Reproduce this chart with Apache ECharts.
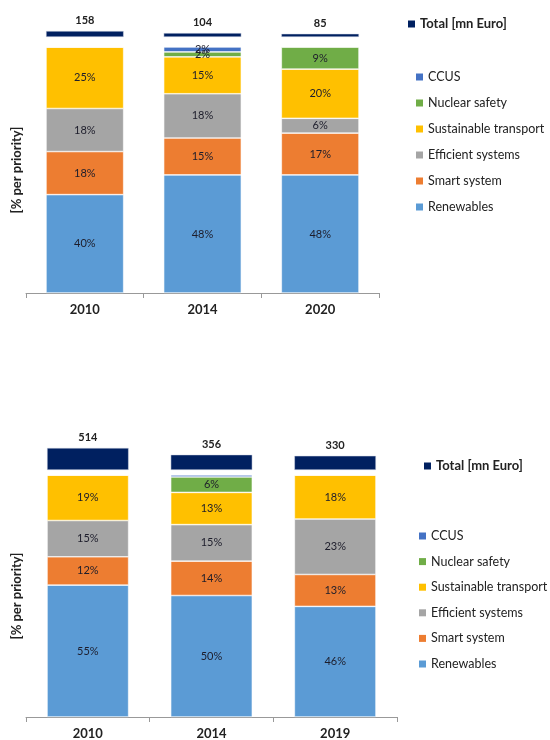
<!DOCTYPE html>
<html>
<head>
<meta charset="utf-8">
<script src="https://cdn.jsdelivr.net/npm/echarts@6/dist/echarts.min.js"></script>
<style>
  html, body { margin: 0; padding: 0; background: #fff; }
  #chart { width: 550px; height: 740px; }
</style>
</head>
<body>
<div id="chart"></div>
<script>
// top chart
const topYears = ['2010', '2014', '2020'];
const topTotal = [158, 104, 85];
const topRenewables = [40, 48, 48];
const topSmart = [17.5, 15, 17];
const topEfficient = [17.5, 18, 6];
const topTransport = [25, 15, 20];
const topNuclear = [0, 2, 9];
const topCcus = [0, 2, 0];

// bottom chart
const botYears = ['2010', '2014', '2019'];
const botTotal = [514, 356, 330];
const botRenewables = [54.5, 50.2, 45.7];
const botSmart = [11.7, 14.2, 13.2];
const botEfficient = [15, 15.1, 22.9];
const botTransport = [18.8, 13.3, 18.2];
const botNuclear = [0, 6.4, 0];
const botCcus = [0, 0.8, 0];

const names = ['Renewables', 'Smart system', 'Efficient systems', 'Sustainable transport', 'Nuclear safety', 'CCUS'];
const colors = ['#5B9BD5', '#ED7D31', '#A5A5A5', '#FFC000', '#70AD47', '#4472C4'];
const totalName = 'Total [mn Euro]';
const font = 'Lato';

const chart = echarts.init(document.getElementById('chart'));

function shareSeries(data, xi, stack) {
  return data.map((d, i) => ({
    name: names[i],
    type: 'bar',
    stack: stack,
    xAxisIndex: xi,
    yAxisIndex: xi,
    barWidth: '66%',
    data: d,
    itemStyle: { color: colors[i], borderColor: '#fff', borderWidth: 0.6 },
    label: {
      show: true,
      position: 'inside',
      fontFamily: font,
      fontSize: 11,
      color: '#1d1d2b',
      formatter: p => (p.value >= 1.5 ? Math.round(p.value) + '%' : '')
    }
  }));
}

function totalSeries(data, xi) {
  return {
    name: totalName,
    type: 'bar',
    xAxisIndex: xi,
    yAxisIndex: xi,
    barWidth: '66%',
    data: data,
    itemStyle: { color: '#002060', borderColor: '#d9dde8', borderWidth: 0.5 },
    label: {
      show: true,
      position: 'top',
      distance: 5,
      fontFamily: font,
      fontSize: 11,
      fontWeight: 'bold',
      color: '#222'
    }
  };
}

function catAxis(gi, years, show) {
  return {
    type: 'category',
    gridIndex: gi,
    data: years,
    show: show,
    axisLine: { lineStyle: { color: '#999' } },
    axisTick: { show: true, length: 5, lineStyle: { color: '#999' } },
    axisLabel: { fontFamily: font, fontSize: 13, fontWeight: 'bold', color: '#222', margin: 10 }
  };
}

function valAxis(gi, max, withName) {
  return {
    type: 'value',
    gridIndex: gi,
    min: 0,
    max: max,
    axisLine: { show: false },
    axisTick: { show: false },
    axisLabel: { show: false },
    splitLine: { show: false },
    name: withName ? '[% per priority]' : '',
    nameLocation: 'middle',
    nameRotate: 90,
    nameGap: 3,
    nameTextStyle: { fontFamily: font, fontSize: 13, fontWeight: 'bold', color: '#222' }
  };
}

const legendText = { fontFamily: font, fontSize: 12.5, color: '#222', lineHeight: 14 };
const legendIcon = { borderWidth: 0 };

const option = {
  backgroundColor: '#fff',
  animation: false,
  grid: [
    { left: 26, right: 171, top: 47, bottom: 447 },
    { left: 26, right: 171, top: 17, height: 20 },
    { left: 26, right: 153, top: 475, bottom: 22 },
    { left: 26, right: 153, top: 445, height: 25 }
  ],
  xAxis: [
    catAxis(0, topYears, true),
    catAxis(1, topYears, false),
    catAxis(2, botYears, true),
    catAxis(3, botYears, false)
  ],
  yAxis: [
    valAxis(0, 100, true),
    valAxis(1, 526, false),
    valAxis(2, 100, true),
    valAxis(3, 581, false)
  ],
  legend: [
    {
      data: [totalName], left: 408, top: 17, orient: 'vertical', padding: 0, icon: 'rect',
      itemWidth: 7, itemHeight: 7, itemStyle: legendIcon,
      textStyle: Object.assign({}, legendText, { fontSize: 13, fontWeight: 'bold' })
    },
    {
      data: names.slice().reverse(), left: 416, top: 70, orient: 'vertical', padding: 0, icon: 'rect',
      itemWidth: 7, itemHeight: 7, itemGap: 12, itemStyle: legendIcon,
      textStyle: legendText
    },
    {
      data: [totalName], left: 424, top: 459, orient: 'vertical', padding: 0, icon: 'rect',
      itemWidth: 7, itemHeight: 7, itemStyle: legendIcon,
      textStyle: Object.assign({}, legendText, { fontSize: 13, fontWeight: 'bold' })
    },
    {
      data: names.slice().reverse(), left: 419, top: 529, orient: 'vertical', padding: 0, icon: 'rect',
      itemWidth: 7, itemHeight: 7, itemGap: 11.6, itemStyle: legendIcon,
      textStyle: legendText
    }
  ],
  series: [
    ...shareSeries([topRenewables, topSmart, topEfficient, topTransport, topNuclear, topCcus], 0, 'top'),
    totalSeries(topTotal, 1),
    ...shareSeries([botRenewables, botSmart, botEfficient, botTransport, botNuclear, botCcus], 2, 'bot'),
    totalSeries(botTotal, 3)
  ]
};

chart.setOption(option);
window.addEventListener('resize', function () {
  chart.resize();
});
</script>
</body>
</html>
